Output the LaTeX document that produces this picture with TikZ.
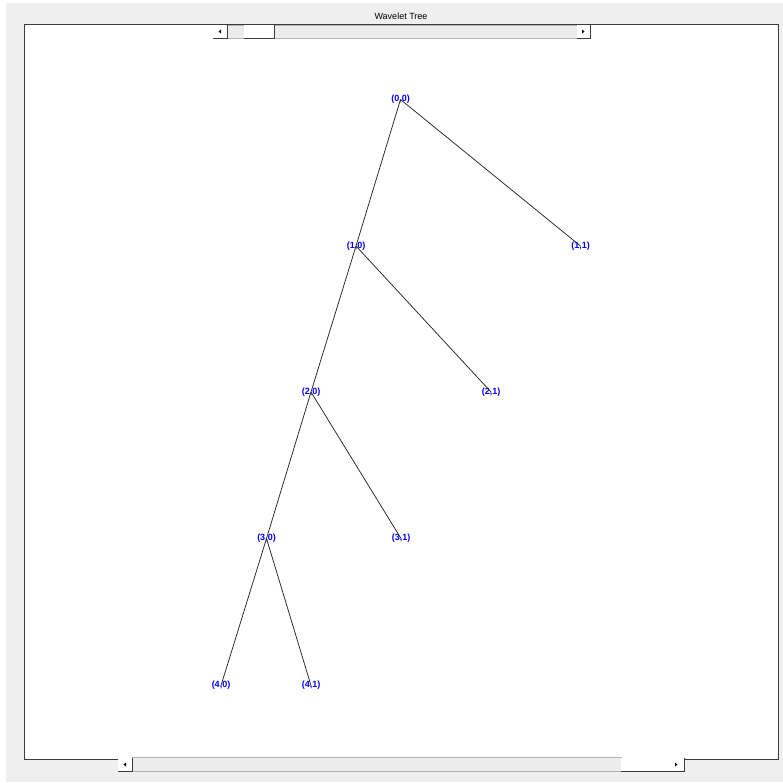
\documentclass[tikz,border=0pt]{standalone}
\usepackage{fontspec}
\setmainfont{Liberation Sans}
\definecolor{panelgrey}{HTML}{EFEFEF}
\definecolor{troughgrey}{HTML}{ECECEC}
\definecolor{edgedark}{HTML}{3C3C3C}
\definecolor{troughline}{HTML}{B4B4B4}
\tikzset{
  lbl/.style={text=blue, font=\fontsize{9}{9}\selectfont\bfseries, inner sep=0pt},
  edge/.style={draw=black!85, line width=0.75pt},
  btn/.style={fill=white},
  shade/.style={draw=edgedark, line width=1pt},
  trough/.style={fill=troughgrey, draw=troughline, line width=0.6pt},
  arrowtip/.style={fill=black}
}
\begin{document}
\begin{tikzpicture}[x=1pt,y=-1pt]
\useasboundingbox (0,0) rectangle (783,782);
\fill[white] (0,0) rectangle (783,782);
\fill[panelgrey] (6,3) rectangle (783,782);
% axes box
\fill[white] (24,24) rectangle (778,759);
\draw[draw=edgedark, line width=1pt] (24,24) rectangle (778,759);
% title
\node[font=\fontsize{9}{9}\selectfont, inner sep=0pt] (title) at (401,16.5) {Wavelet Tree};
% top scrollbar
\filldraw[trough] (227,25) rectangle (577,38.5);
\fill[btn] (213,25) rectangle (227,38.5);
\draw[shade] (213,38.5) -- (227,38.5) -- (227,24.5);
\fill[arrowtip] (218.5,31.5) -- (221,29.5) -- (221,33.5) -- cycle;
\fill[btn] (244,25) rectangle (274,38.5);
\draw[shade] (244,38.5) -- (274,38.5) -- (274,24.5);
\fill[btn] (577,25) rectangle (590,38.5);
\draw[shade] (577,38.5) -- (590,38.5) -- (590,24.5);
\fill[arrowtip] (584.5,31.5) -- (582,29.5) -- (582,33.5) -- cycle;
% bottom scrollbar
\filldraw[trough] (132,757.5) rectangle (621,771.5);
\fill[btn] (118,757.5) rectangle (132,771.5);
\draw[shade] (118,771.5) -- (132,771.5) -- (132,757.5);
\fill[arrowtip] (123.5,764.5) -- (126,762.5) -- (126,766.5) -- cycle;
\fill[btn] (621,757.5) rectangle (669,771.5);
\draw[shade] (621,771.5) -- (669,771.5) -- (669,757.5);
\fill[btn] (669,757.5) rectangle (684,771.5);
\draw[shade] (669,771.5) -- (684,771.5) -- (684,757.5);
\fill[arrowtip] (677.5,764.5) -- (675,762.5) -- (675,766.5) -- cycle;
% tree nodes
\node[lbl] (n00) at (400.5,99.5) {(0,0)};
\node[lbl] (n10) at (356,246) {(1,0)};
\node[lbl] (n11) at (580.5,246) {(1,1)};
\node[lbl] (n20) at (311,392) {(2,0)};
\node[lbl] (n21) at (491,392) {(2,1)};
\node[lbl] (n30) at (266.5,538.5) {(3,0)};
\node[lbl] (n31) at (401,538.5) {(3,1)};
\node[lbl] (n40) at (221,685.5) {(4,0)};
\node[lbl] (n41) at (311,685.5) {(4,1)};
% edges
\draw[edge] (n00.center) -- (n10.center);
\draw[edge] (n00.center) -- (n11.center);
\draw[edge] (n10.center) -- (n20.center);
\draw[edge] (n10.center) -- (n21.center);
\draw[edge] (n20.center) -- (n30.center);
\draw[edge] (n20.center) -- (n31.center);
\draw[edge] (n30.center) -- (n40.center);
\draw[edge] (n30.center) -- (n41.center);
\end{tikzpicture}
\end{document}
